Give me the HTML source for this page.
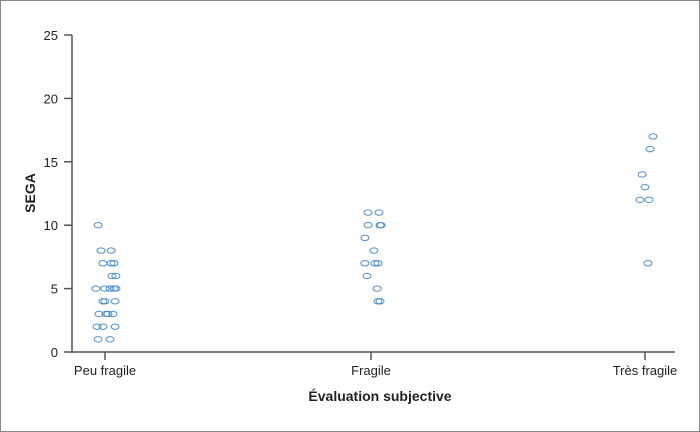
<!DOCTYPE html>
<html><head><meta charset="utf-8"><style>
body{margin:0;background:#fff}
svg{display:block;font-family:"Liberation Sans",sans-serif}
</style></head><body>
<svg width="700" height="432">
<rect x="0.5" y="0.5" width="699" height="431" fill="#fff" stroke="#888"/>
<g id="g"></g>
</svg>
<script>
const categories=["Peu fragile","Fragile","Très fragile"];
const yTicks=[0,5,10,15,20,25];
const pointGroup=[0,0,0,0,0,0,0,0,0,0,0,0,0,0,0,0,0,0,0,0,0,0,0,0,0,1,1,1,1,1,1,1,1,1,1,1,1,1,1,2,2,2,2,2,2,2];
const pointValue=[10,8,8,7,7,7,6,6,5,5,5,5,5,4,4,4,3,3,3,3,2,2,2,1,1,
11,11,10,10,10,9,8,7,7,7,6,5,4,4,
17,16,14,13,12,12,7];
const pointJitter=[-0.026,-0.015,0.023,-0.008,0.023,0.034,0.026,0.041,-0.034,0,0.019,0.034,0.041,-0.008,0,0.038,-0.023,0.004,0.011,0.030,-0.030,-0.008,0.038,-0.026,0.019,
-0.011,0.030,-0.011,0.034,0.038,-0.023,0.011,-0.023,0.015,0.026,-0.015,0.023,0.026,0.034,
0.030,0.019,-0.011,0,-0.019,0.015,0.011];
const NS="http://www.w3.org/2000/svg";
const g=document.getElementById('g');
const L=72,R=675,T=35,B=352,yMax=25;
const centers=[105,371,645];
const band=266;
function xs(c,j){return centers[c]+j*band;}
function ys(v){return B-(v/yMax)*(B-T);}
function el(t,a,txt){const e=document.createElementNS(NS,t);for(const k in a)e.setAttribute(k,a[k]);if(txt!==undefined)e.textContent=txt;g.appendChild(e);return e;}
let e=el('line',{x1:L,y1:T,x2:L,y2:B+1,stroke:'#555','stroke-width':1.5});

e=el('line',{x1:L,y1:B,x2:R,y2:B,stroke:'#555','stroke-width':1.5});

yTicks.forEach(v=>{const y=ys(v);
 let t=el('line',{x1:L-8,y1:y,x2:L,y2:y,stroke:'#555','stroke-width':1.5});
 
 let l=el('text',{x:58,y:y+5,'text-anchor':'end','font-size':13,fill:'#222'},v);
 });
categories.forEach((c,i)=>{const x=centers[i];
 let t=el('line',{x1:x,y1:B,x2:x,y2:B+8,stroke:'#555','stroke-width':1.5});
 
 let l=el('text',{x:x,y:375,'text-anchor':'middle','font-size':13,fill:'#222'},c);
 });
pointValue.forEach((v,i)=>{
 let p=el('ellipse',{cx:xs(pointGroup[i],pointJitter[i]),cy:ys(v),rx:4,ry:2.7,fill:'none',stroke:'#4a8fd0','stroke-width':1});
 });
e=el('text',{x:380,y:401,'text-anchor':'middle','font-size':14,'font-weight':'bold',fill:'#222'},'Évaluation subjective');

e=el('text',{x:0,y:0,'text-anchor':'middle','font-size':14,'font-weight':'bold',fill:'#222',transform:'translate(35,193) rotate(-90)'},'SEGA');

</script>
</body></html>
